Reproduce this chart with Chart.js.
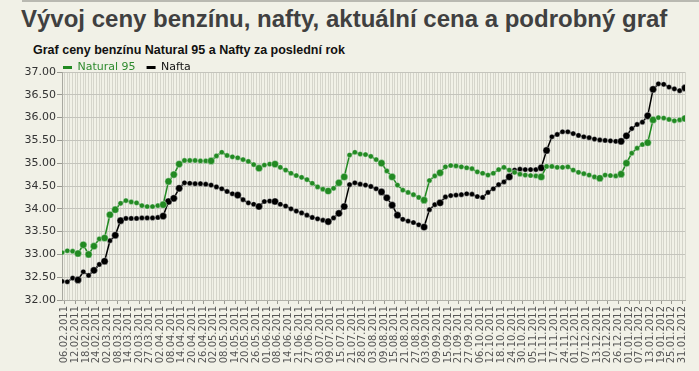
<!DOCTYPE html>
<html lang="cs">
<head>
<meta charset="utf-8">
<script src="https://cdn.jsdelivr.net/npm/chart.js@4"></script>
<style>
  html, body { margin: 0; padding: 0; background: #f1f1e7; }
  body { width: 699px; height: 371px; position: relative; overflow: hidden; font-family: "Liberation Sans", Arial, sans-serif; }
  .linka { position: absolute; left: 22px; right: 0; top: 0; height: 2px; background: #b9b9b1; }
  h1 { position: absolute; left: 21px; top: 5px; margin: 0; font-size: 24px; font-weight: bold; color: #404040; white-space: nowrap; }
  h2 { position: absolute; left: 33px; top: 43px; margin: 0; font-size: 12.5px; font-weight: bold; color: #111; white-space: nowrap; }
  #obal { position: absolute; left: 0; top: 40px; width: 699px; height: 331px; }
</style>
</head>
<body>
<div class="linka"></div>
<h1>Vývoj ceny benzínu, nafty, aktuální cena a podrobný graf</h1>
<h2>Graf ceny benzínu Natural 95 a Nafty za poslední rok</h2>
<div id="obal"><canvas id="grafCen"></canvas></div>
<script>
// popisky osy x (kazdy popisek = jeden krok osy)
const datumy = ['06.02.2011','12.02.2011','18.02.2011','24.02.2011','02.03.2011','08.03.2011','14.03.2011','20.03.2011','27.03.2011',
  '02.04.2011','08.04.2011','14.04.2011','20.04.2011','26.04.2011','02.05.2011','08.05.2011','14.05.2011','20.05.2011','26.05.2011',
  '01.06.2011','08.06.2011','14.06.2011','21.06.2011','27.06.2011','03.07.2011','09.07.2011','15.07.2011','21.07.2011','28.07.2011',
  '03.08.2011','09.08.2011','15.08.2011','21.08.2011','27.08.2011','03.09.2011','09.09.2011','15.09.2011','21.09.2011','27.09.2011',
  '06.10.2011','12.10.2011','18.10.2011','24.10.2011','30.10.2011','05.11.2011','11.11.2011','17.11.2011','24.11.2011','01.12.2011',
  '07.12.2011','13.12.2011','20.12.2011','26.12.2011','01.01.2012','07.01.2012','13.01.2012','19.01.2012','25.01.2012','31.01.2012'];

// ceny (Kc/l), jedna hodnota na pul kroku osy
const natural95 = [33.04,33.08,33.07,33.02,33.21,33.00,33.18,33.34,33.36,33.87,
  33.98,34.12,34.18,34.15,34.13,34.07,34.05,34.05,34.07,34.09,
  34.60,34.75,34.98,35.06,35.06,35.06,35.05,35.05,35.05,35.16,
  35.24,35.17,35.14,35.12,35.08,35.04,34.97,34.89,34.96,34.98,
  34.98,34.91,34.85,34.78,34.73,34.69,34.64,34.56,34.48,34.43,
  34.39,34.45,34.57,34.70,35.18,35.24,35.20,35.19,35.15,35.08,
  35.00,34.83,34.70,34.52,34.41,34.36,34.31,34.25,34.19,34.62,
  34.72,34.79,34.92,34.95,34.94,34.92,34.90,34.88,34.81,34.78,
  34.74,34.78,34.86,34.91,34.85,34.80,34.76,34.74,34.73,34.72,
  34.70,34.93,34.93,34.91,34.91,34.92,34.85,34.80,34.77,34.74,
  34.70,34.67,34.74,34.73,34.72,34.76,35.00,35.22,35.33,35.41,
  35.45,35.95,36.00,35.99,35.96,35.93,35.95,35.98];

const nafta = [32.41,32.40,32.48,32.44,32.62,32.54,32.65,32.78,32.85,33.30,
  33.42,33.74,33.79,33.79,33.79,33.80,33.80,33.80,33.81,33.84,
  34.16,34.23,34.45,34.57,34.56,34.55,34.55,34.54,34.52,34.48,
  34.44,34.38,34.33,34.30,34.20,34.13,34.10,34.05,34.16,34.17,
  34.16,34.10,34.06,34.00,33.95,33.91,33.86,33.81,33.78,33.75,
  33.72,33.80,33.90,34.05,34.53,34.57,34.54,34.52,34.49,34.44,
  34.37,34.24,34.08,33.86,33.77,33.73,33.70,33.65,33.60,33.98,
  34.09,34.13,34.26,34.29,34.30,34.31,34.33,34.32,34.27,34.25,
  34.36,34.44,34.53,34.59,34.70,34.85,34.87,34.86,34.86,34.86,
  34.90,35.28,35.58,35.63,35.69,35.69,35.65,35.61,35.58,35.56,
  35.53,35.51,35.50,35.49,35.48,35.48,35.60,35.76,35.85,35.90,
  36.04,36.62,36.74,36.73,36.67,36.63,36.59,36.65];

// body, ktere jsou v grafu zvyraznene (vetsi tecka)
const vetsiNatural = [3,4,5,6,8,9,10,19,20,21,22,28,37,40,50,52,53,60,62,68,71,90,101,105,106,110,111,117];
const vetsiNafta = [3,6,8,10,11,19,20,21,22,33,37,40,50,52,53,60,61,62,63,68,71,84,90,91,105,106,110,111,117];

const zacatek = -0.25; // poloha prvniho bodu na ose
const krok = 0.5;      // vzdalenost bodu na ose

const naBody = arr => arr.map((v, k) => ({ x: zacatek + k * krok, y: v }));
const velikost = seznam => ctx => seznam.includes(ctx.dataIndex) ? 3.6 : 2.6;

// legenda zacina u osy y a je o kousek niz
const posunLegendy = {
  id: 'posunLegendy',
  afterLayout(chart) {
    const l = chart.legend;
    l.left = chart.chartArea.left - l.options.labels.padding + 1;
    l.top += 11;
  }
};

const ctx = document.getElementById('grafCen').getContext('2d');

new Chart(ctx, {
  type: 'line',
  data: {
    datasets: [{
      label: 'Natural 95',
      data: naBody(natural95),
      borderColor: '#228a22',
      backgroundColor: '#228a22',
      borderWidth: 1.5,
      pointRadius: velikost(vetsiNatural),
      pointBackgroundColor: '#228a22',
      pointBorderColor: 'rgba(255,255,255,0.45)',
      pointBorderWidth: 0.8,
      textColor: '#2e8b2e'
    }, {
      label: 'Nafta',
      data: naBody(nafta),
      borderColor: '#000000',
      backgroundColor: '#000000',
      borderWidth: 1.5,
      pointRadius: velikost(vetsiNafta),
      pointBackgroundColor: '#000000',
      pointBorderColor: 'rgba(255,255,255,0.45)',
      pointBorderWidth: 0.8,
      textColor: '#111111'
    }]
  },
  options: {
    responsive: true,
    maintainAspectRatio: false,
    animation: false,
    layout: { padding: { left: 0, right: 9, top: 0, bottom: 0 } },
    plugins: {
      title: { display: false },
      tooltip: { enabled: false },
      legend: {
        position: 'top',
        align: 'start',
        labels: {
          usePointStyle: true,
          pointStyleWidth: 9,
          boxHeight: 9,
          padding: 11,
          font: { family: 'DejaVu Sans', size: 11 },
          generateLabels: chart => chart.data.datasets.map((ds, i) => ({
            text: ds.label,
            fillStyle: ds.borderColor,
            strokeStyle: ds.borderColor,
            fontColor: ds.textColor,
            lineWidth: 3,
            pointStyle: 'line',
            hidden: false,
            datasetIndex: i
          }))
        }
      }
    },
    scales: {
      x: {
        type: 'linear',
        min: -0.25,
        max: 58.25,
        afterFit: s => { s.height = 71; },
        grid: {
          color: '#d5d5cb',
          tickLength: 4,
          tickColor: c => (c.tick && Math.abs(c.tick.value - Math.round(c.tick.value)) < 1e-6) ? '#9a9a92' : 'rgba(0,0,0,0)'
        },
        border: { color: '#b0b0a8' },
        ticks: {
          stepSize: 0.25,
          autoSkip: false,
          minRotation: 90,
          maxRotation: 90,
          padding: 2,
          color: '#555555',
          font: { family: 'DejaVu Sans', size: 10 },
          callback: v => {
            const i = Math.round(v);
            return (Math.abs(v - i) < 1e-6 && datumy[i]) ? datumy[i] : '';
          }
        }
      },
      y: {
        min: 32,
        max: 37,
        afterFit: s => { s.width = 62; },
        grid: { color: '#c4c4bc', tickLength: 5, tickColor: '#9a9a92' },
        border: { color: '#a8a8a0' },
        ticks: {
          stepSize: 0.5,
          padding: 1,
          color: '#333333',
          font: { family: 'DejaVu Sans', size: 11 },
          callback: v => v.toFixed(2)
        }
      }
    }
  },
  plugins: [posunLegendy]
});
</script>
</body>
</html>
